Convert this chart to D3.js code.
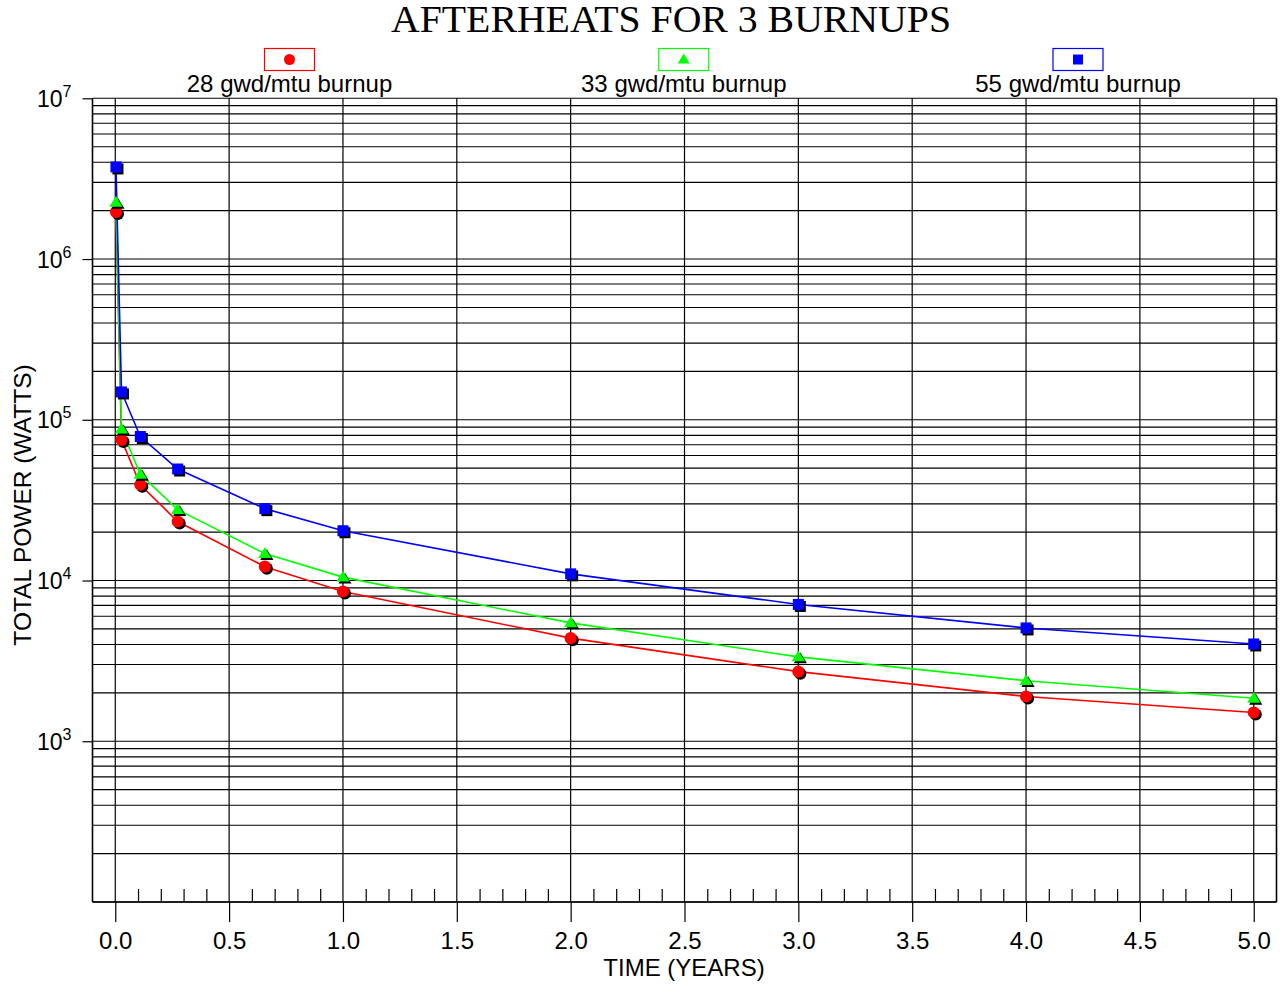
<!DOCTYPE html>
<html>
<head>
<meta charset="utf-8">
<script src="https://cdn.jsdelivr.net/npm/d3@7"></script>
<style>
  html, body { margin: 0; padding: 0; background: #fff; }
  svg { display: block; }
  text { font-family: "Liberation Sans", Arial, sans-serif; fill: #000; }
</style>
</head>
<body>
<svg id="chart" width="1283" height="986"></svg>
<script>
// ---------------- data ----------------
const title = "AFTERHEATS FOR 3 BURNUPS";
const xLabel = "TIME (YEARS)";
const yLabel = "TOTAL POWER (WATTS)";
const seriesNames = ["28 gwd/mtu burnup", "33 gwd/mtu burnup", "55 gwd/mtu burnup"];
const seriesColors = ["#ff0000", "#00ff00", "#0000ff"];
const seriesShapes = ["circle", "triangle", "square"];
const timeYears = [0.003, 0.0274, 0.11, 0.274, 0.657, 1.0, 2.0, 3.0, 4.0, 5.0];
const power28 = [1.96e6, 7.5e4, 3.94e4, 2.33e4, 1.22e4, 8.55e3, 4.38e3, 2.71e3, 1.90e3, 1.51e3];
const power33 = [2.25e6, 8.75e4, 4.58e4, 2.76e4, 1.47e4, 1.05e4, 5.45e3, 3.35e3, 2.38e3, 1.85e3];
const power55 = [3.74e6, 1.49e5, 7.87e4, 4.94e4, 2.80e4, 2.04e4, 1.10e4, 7.10e3, 5.07e3, 4.03e3];
const xTickValues = [0, 0.5, 1, 1.5, 2, 2.5, 3, 3.5, 4, 4.5, 5];
const xTickLabels = ["0.0", "0.5", "1.0", "1.5", "2.0", "2.5", "3.0", "3.5", "4.0", "4.5", "5.0"];
const yDecadeExponents = [3, 4, 5, 6, 7];

const seriesValues = [power28, power33, power55];

// ---------------- layout ----------------
const svg = d3.select("#chart");
const L = 92.5, R = 1276.5, T = 98.3, B = 902;

const x = d3.scaleLinear().domain([-0.1, 5.1]).range([L, R]);
const y = d3.scaleLog().domain([1e2, 1e7]).range([B, T]);

// title
svg.append("text")
  .attr("x", 671).attr("y", 32)
  .attr("text-anchor", "middle")
  .attr("textLength", 560)
  .attr("lengthAdjust", "spacingAndGlyphs")
  .style("font-family", "'Liberation Serif', 'Times New Roman', serif")
  .style("font-size", "37px")
  .text(title);

// horizontal log gridlines
const gridVals = [];
for (let d = 2; d <= 6; d++) for (let k = 1; k <= 9; k++) gridVals.push(k * Math.pow(10, d));
gridVals.push(1e7);
svg.append("g").selectAll("line").data(gridVals).join("line")
  .attr("x1", L).attr("x2", R)
  .attr("y1", d => y(d)).attr("y2", d => y(d))
  .attr("stroke", "#000").attr("stroke-width", 1.1);

// vertical gridlines
svg.append("g").selectAll("line").data(xTickValues).join("line")
  .attr("x1", d => x(d)).attr("x2", d => x(d))
  .attr("y1", T).attr("y2", B)
  .attr("stroke", "#000").attr("stroke-width", 1.2);

// frame left/right
svg.append("line").attr("x1", L).attr("x2", L).attr("y1", T).attr("y2", B)
  .attr("stroke", "#000").attr("stroke-width", 1.6);
svg.append("line").attr("x1", R).attr("x2", R).attr("y1", T).attr("y2", B)
  .attr("stroke", "#000").attr("stroke-width", 1.6);

// x axis (major)
const xAxis = d3.axisBottom(x).tickValues(xTickValues).tickSize(20).tickPadding(10)
  .tickFormat((d, i) => xTickLabels[i]);
const gx = svg.append("g").attr("transform", `translate(0,${B})`).call(xAxis);
gx.select(".domain").attr("d", `M${L},0H${R}`).attr("stroke", "#000").attr("stroke-width", 1.4);
gx.selectAll(".tick line").attr("stroke", "#000").attr("stroke-width", 1.2);
gx.selectAll(".tick text")
  .style("font-family", "'Liberation Sans', Arial, sans-serif")
  .style("font-size", "24px").attr("fill", "#000");

// x axis minor ticks (upward)
const minorVals = d3.range(0, 51).map(i => i / 10).filter(v => Math.abs(v * 2 - Math.round(v * 2)) > 1e-6);
const xMinor = d3.axisBottom(x).tickValues(minorVals).tickSize(-13).tickFormat("");
const gxm = svg.append("g").attr("transform", `translate(0,${B})`).call(xMinor);
gxm.select(".domain").remove();
gxm.selectAll(".tick line").attr("stroke", "#000").attr("stroke-width", 1.2);

// y axis (decade ticks with superscript labels)
const yAxis = d3.axisLeft(y).tickValues(yDecadeExponents.map(e => Math.pow(10, e)))
  .tickSize(10).tickPadding(10).tickFormat("");
const gy = svg.append("g").attr("transform", `translate(${L},0)`).call(yAxis);
gy.select(".domain").remove();
gy.selectAll(".tick line").attr("stroke", "#000").attr("stroke-width", 1.2);
gy.selectAll(".tick").each(function (d, i) {
  const t = d3.select(this).append("text")
    .attr("x", -21).attr("y", 8)
    .attr("text-anchor", "end")
    .style("font-size", "23px");
  t.append("tspan").text("10");
  t.append("tspan").attr("dy", -10).style("font-size", "16px").text(String(yDecadeExponents[i]));
});

// axis titles
svg.append("text")
  .attr("x", 684).attr("y", 976)
  .attr("text-anchor", "middle")
  .style("font-size", "24px")
  .text(xLabel);
svg.append("text")
  .attr("transform", "translate(31,505) rotate(-90)")
  .attr("text-anchor", "middle")
  .style("font-size", "24.5px")
  .text(yLabel);

// marker generator
function marker(sel, shape, color, size) {
  if (shape === "circle") {
    sel.append("circle").attr("r", size * 0.55).attr("fill", color);
  } else if (shape === "square") {
    sel.append("rect").attr("x", -size / 2).attr("y", -size / 2)
      .attr("width", size).attr("height", size).attr("fill", color);
  } else {
    const h = size * 0.95;
    sel.append("path")
      .attr("d", `M0,${-h * 0.62}L${size * 0.6},${h * 0.42}L${-size * 0.6},${h * 0.42}Z`)
      .attr("fill", color);
  }
}

// series lines and markers
const line = d3.line().x(d => x(d[0])).y(d => y(d[1]));
seriesValues.forEach((vals, si) => {
  const pts = timeYears.map((t, i) => [t, vals[i]]);
  svg.append("path").datum(pts)
    .attr("d", line)
    .attr("fill", "none")
    .attr("stroke", seriesColors[si])
    .attr("stroke-width", 1.6);
});
seriesValues.forEach((vals, si) => {
  const pts = timeYears.map((t, i) => [t, vals[i]]);
  const g = svg.append("g");
  pts.forEach(p => {
    const sh = g.append("g").attr("transform", `translate(${x(p[0]) + 2},${y(p[1]) + 2})`);
    marker(sh, seriesShapes[si], "#000", 11);
    const m = g.append("g").attr("transform", `translate(${x(p[0])},${y(p[1])})`);
    marker(m, seriesShapes[si], seriesColors[si], 11);
  });
});

// legend
const lx = d3.scalePoint().domain(seriesNames).range([289.5, 1078]);
seriesNames.forEach((name, si) => {
  const cx = lx(name);
  const g = svg.append("g");
  g.append("rect").attr("x", cx - 25).attr("y", 48.5).attr("width", 50).attr("height", 22)
    .attr("fill", "#fff").attr("stroke", seriesColors[si]).attr("stroke-width", 1.2);
  const m = g.append("g").attr("transform", `translate(${cx},59.5)`);
  marker(m, seriesShapes[si], seriesColors[si], 10);
  g.append("text").attr("x", cx).attr("y", 92).attr("text-anchor", "middle")
    .style("font-size", "24px").text(name);
});
</script>
</body>
</html>
